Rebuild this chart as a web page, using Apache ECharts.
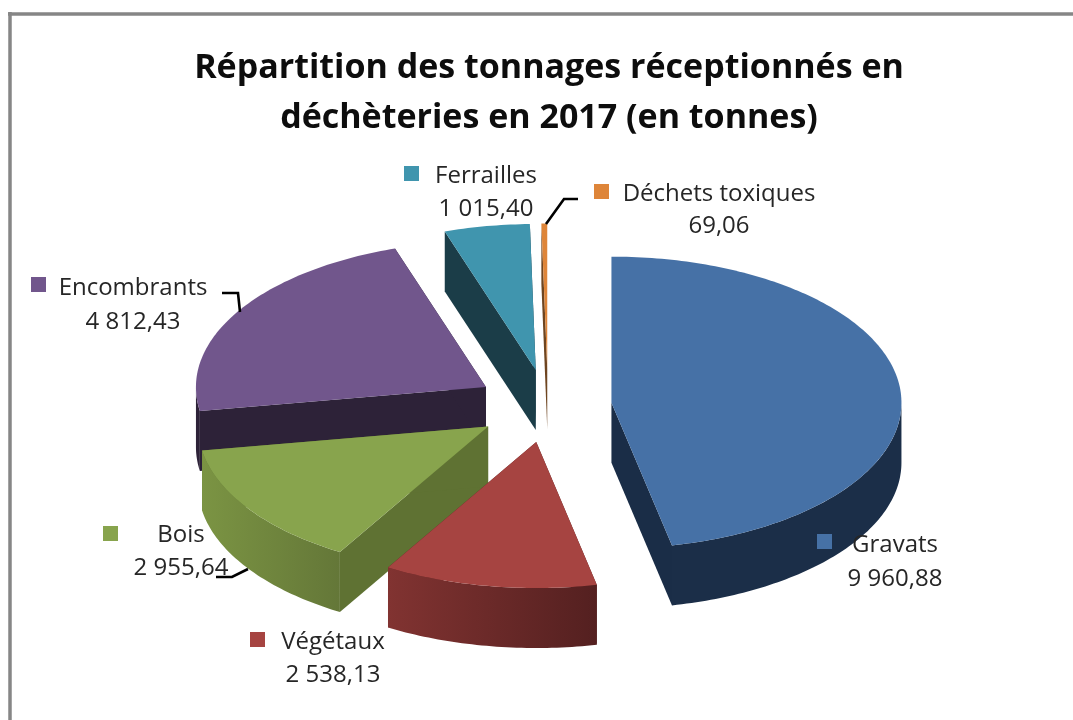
<!DOCTYPE html>
<html><head><meta charset="utf-8">
<style>html,body{margin:0;padding:0;background:#fff}#c{width:1073px;height:720px}</style>
<script src="https://cdn.jsdelivr.net/npm/echarts@6/dist/echarts.min.js"></script>
</head><body><div id="c"></div>
<script>
// ---- data
const categories = ['Gravats','Végétaux','Bois','Encombrants','Ferrailles','Déchets toxiques'];
const tonnages = [9960.88, 2538.13, 2955.64, 4812.43, 1015.40, 69.06];
const titleText = 'Répartition des tonnages réceptionnés en\ndéchèteries en 2017 (en tonnes)';

// ---- styling / layout (not data)
const topColors  = ['#4671A6','#A64441','#88A44D','#71568C','#4095AE','#DE8539'];
const sideLeft   = ['#1B2E48','#813331','#7B9443','#2D2238','#1B3D48','#8A5224'];
const sideRight  = ['#1B2E48','#542020','#647738','#2D2238','#1B3D48','#8A5224'];
const radialSide = ['#1A2D47','#542020','#5F7233','#2D2238','#1B3D48','#6E4520'];
const drawOrder  = [5,4,3,2,1,0];           // paint rank by category index
const explode    = [0.22,0.25,0.25,0.25,0.25,0.25];
const CX=548, CY=406, RX=290, RY=146, DEPTH=60;
const FONT='"Open Sans"';
const labelBoxes = [
 {sq:[817,534], name:[895,545], val:[895,579]},
 {sq:[250,632], name:[333,642], val:[333,675]},
 {sq:[103,526], name:[181,535], val:[181,568]},
 {sq:[31,277],  name:[133,288], val:[133,322]},
 {sq:[404,166], name:[486,176], val:[486,209]},
 {sq:[594,184], name:[719,194], val:[719,226]}
];
const leaders = [null,null,
 [[216,577],[232,577],[248,569]],
 [[222,293],[238,293],[240,312]],
 null,
 [[546,224],[564,199],[578,199]]
];

const total = tonnages.reduce((a,b)=>a+b,0);
function fmt(v){
  const p=v.toFixed(2).split('.');
  return p[0].replace(/\B(?=(\d{3})+$)/g,' ')+','+p[1];
}
function pt(ax,ay,deg,dy){
  const r=deg*Math.PI/180;
  return [ax+RX*Math.sin(r), ay-RY*Math.cos(r)+(dy||0)];
}
function arc(ax,ay,a0,a1,dy){
  const n=Math.max(2,Math.ceil(Math.abs(a1-a0)));
  const out=[];
  for(let i=0;i<=n;i++) out.push(pt(ax,ay,a0+(a1-a0)*i/n,dy));
  return out;
}
function renderSlice(params,api){
  const i=params.dataIndex;
  let before=0; for(let k=0;k<i;k++) before+=tonnages[k];
  const value=api.value(0);
  const a0=before/total*360, a1=(before+value)/total*360, m=(a0+a1)/2*Math.PI/180;
  const ax=CX+explode[i]*RX*Math.sin(m), ay=CY-explode[i]*RY*Math.cos(m);
  const z=drawOrder[i]*10, kids=[];
  const radial=(deg,sub)=>{
    const p=pt(ax,ay,deg);
    kids.push({type:'polygon',z2:z+sub,silent:true,
      shape:{points:[[ax,ay],p,[p[0],p[1]+DEPTH],[ax,ay+DEPTH]]},
      style:{fill:radialSide[i]}});
  };
  radial(a0,1); radial(a1,2);
  const b0=Math.max(a0,90), b1=Math.min(a1,270);
  if(b1>b0){
    const upper=arc(ax,ay,b0,b1,0), lower=arc(ax,ay,b1,b0,DEPTH);
    const xs=upper.map(p=>p[0]);
    kids.push({type:'polygon',z2:z+3,silent:true,
      shape:{points:upper.concat(lower)},
      style:{fill:{type:'linear',global:true,x:Math.min(...xs),y:0,x2:Math.max(...xs),y2:0,
        colorStops:[{offset:0,color:sideLeft[i]},{offset:1,color:sideRight[i]}]}}});
  }
  kids.push({type:'polygon',z2:z+4,
    shape:{points:[[ax,ay]].concat(arc(ax,ay,a0,a1,0))},
    style:{fill:topColors[i]}});
  return {type:'group',children:kids};
}
function renderLabel(params,api){
  const i=params.dataIndex, b=labelBoxes[i], kids=[];
  kids.push({type:'rect',z2:100,shape:{x:b.sq[0],y:b.sq[1],width:15,height:15},style:{fill:topColors[i]}});
  const txt=(s,p)=>({type:'text',z2:101,style:{text:s,x:p[0],y:p[1],align:'center',verticalAlign:'middle',
     fill:'#262626',font:'24px '+FONT}});
  kids.push(txt(categories[i],b.name));
  kids.push(txt(fmt(api.value(0)),b.val));
  if(leaders[i]) kids.push({type:'polyline',z2:99,shape:{points:leaders[i]},style:{stroke:'#000',lineWidth:2.6,fill:null}});
  return {type:'group',children:kids};
}
const chart=echarts.init(document.getElementById('c'),null,{renderer:'canvas'});
chart.setOption({
  animation:false,backgroundColor:'#fff',
  title:{text:titleText,left:544,top:38,textAlign:'center',
    textStyle:{fontFamily:FONT,fontWeight:'bold',fontSize:34,lineHeight:50,color:'#0d0d0d'}},
  graphic:[
    {type:'line',shape:{x1:8,y1:14,x2:1073,y2:14},style:{stroke:'#868686',lineWidth:3.5}},
    {type:'line',shape:{x1:10,y1:12,x2:10,y2:720},style:{stroke:'#868686',lineWidth:3.5}}
  ],
  series:[
    {type:'custom',coordinateSystem:'none',renderItem:renderSlice,data:tonnages.map((v,i)=>({name:categories[i],value:[v]}))},
    {type:'custom',coordinateSystem:'none',renderItem:renderLabel,z:5,data:tonnages.map((v,i)=>({name:categories[i],value:[v]}))}
  ]
});
</script></body></html>
